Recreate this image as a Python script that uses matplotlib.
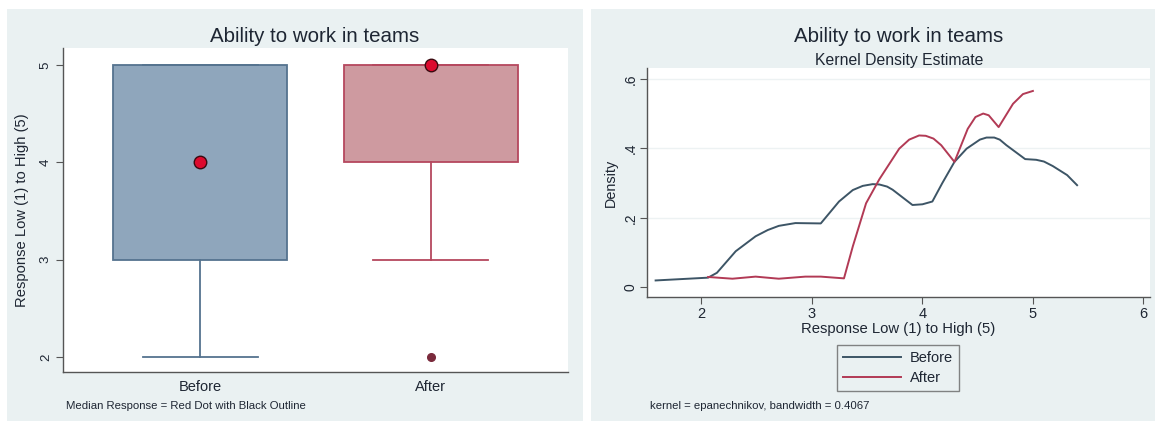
import matplotlib
matplotlib.use("Agg")
import matplotlib.pyplot as plt
from matplotlib.patches import Rectangle
from matplotlib.lines import Line2D

plt.rcParams['font.family'] = ['Liberation Sans', 'DejaVu Sans']

# ---- data ----
groups = ["Before", "After"]
q1 = [3, 4]
medians = [4, 5]
q3 = [5, 5]
whisker_low = [2, 3]
whisker_high = [5, 5]
outliers = [[], [2]]

before_x = [1.585, 2.00, 2.06, 2.14, 2.31, 2.49, 2.60, 2.70, 2.85, 3.08, 3.245, 3.37,
            3.46, 3.55, 3.61, 3.68, 3.73, 3.91, 4.00, 4.09, 4.18, 4.29, 4.40, 4.52,
            4.58, 4.65, 4.70, 4.76, 4.93, 5.03, 5.10, 5.18, 5.31, 5.40]
before_y = [0.020, 0.027, 0.028, 0.042, 0.104, 0.147, 0.165, 0.177, 0.185, 0.184, 0.247, 0.280,
            0.292, 0.297, 0.296, 0.290, 0.281, 0.237, 0.239, 0.247, 0.300, 0.361, 0.399, 0.425,
            0.431, 0.431, 0.425, 0.409, 0.369, 0.367, 0.362, 0.349, 0.323, 0.294]

after_x = [2.06, 2.28, 2.49, 2.70, 2.94, 3.08, 3.29, 3.37, 3.49, 3.61, 3.79, 3.88, 3.97,
           4.03, 4.10, 4.17, 4.29, 4.41, 4.48, 4.55, 4.60, 4.69, 4.82, 4.91, 5.00]
after_y = [0.030, 0.025, 0.031, 0.025, 0.031, 0.031, 0.026, 0.118, 0.242, 0.311, 0.399, 0.425, 0.437,
           0.436, 0.428, 0.409, 0.361, 0.456, 0.490, 0.500, 0.495, 0.461, 0.528, 0.556, 0.565]

# ---- styling ----
panel_bg = '#EAF1F2'
text_col = '#1E2633'
axis_col = '#555555'
box_fill = ['#8FA6BC', '#CE9AA0']
box_edge = ['#55738F', '#B5485E']
line_before = '#3D5566'
line_after = '#B23A55'

fig = plt.figure(figsize=(11.58, 4.23), dpi=100)
W, H = 1158, 423


def px_rect(x0, y0, x1, y1):
    """Convert a pixel box (top-left origin) to figure fractions."""
    return [x0 / W, 1 - y1 / H, (x1 - x0) / W, (y1 - y0) / H]


# panel backgrounds
for (x0, x1) in [(7, 583), (591, 1155)]:
    r = px_rect(x0, 9, x1, 421)
    fig.add_artist(Rectangle((r[0], r[1]), r[2], r[3], transform=fig.transFigure,
                             facecolor=panel_bg, edgecolor='none', zorder=-10))

# ---------------- left: box plot ----------------
ax1 = fig.add_axes(px_rect(63, 48, 568, 372))
ax1.set_facecolor('white')
positions = [1, 2]
for i, pos in enumerate(positions):
    stats = [dict(q1=q1[i], med=medians[i], q3=q3[i], whislo=whisker_low[i],
                  whishi=whisker_high[i], fliers=outliers[i], label=groups[i])]
    ax1.bxp(stats, positions=[pos], widths=0.755, capwidths=[0.5], patch_artist=True,
            showfliers=True,
            boxprops=dict(facecolor=box_fill[i], edgecolor=box_edge[i], linewidth=1.3),
            whiskerprops=dict(color=box_edge[i], linewidth=1.3),
            capprops=dict(color=box_edge[i], linewidth=1.3),
            medianprops=dict(visible=False),
            flierprops=dict(marker='o', markersize=5.5, markerfacecolor='#7A2A3C',
                            markeredgecolor='#7A2A3C'))
ax1.plot(positions, medians, linestyle='none', marker='o', markersize=9,
         markerfacecolor='#DC0A2E', markeredgecolor='#3A0A10', markeredgewidth=1.0,
         zorder=5, clip_on=False)

ax1.set_xlim(0.405, 2.595)
ax1.set_ylim(1.846, 5.175)
ax1.set_xticks(positions)
ax1.set_xticklabels(groups, fontsize=10.5, color=text_col)
ax1.tick_params(axis='x', length=0, pad=6)
ax1.set_yticks([2, 3, 4, 5])
ax1.set_yticklabels(['2', '3', '4', '5'], rotation=90, va='center', fontsize=9.5, color=text_col)
ax1.tick_params(axis='y', length=5, color=axis_col, pad=3)
for s in ['top', 'right']:
    ax1.spines[s].set_visible(False)
for s in ['left', 'bottom']:
    ax1.spines[s].set_color(axis_col)
    ax1.spines[s].set_linewidth(1.0)
ax1.set_ylabel('Response Low (1) to High (5)', fontsize=10.6, color=text_col, labelpad=8)
fig.text(315 / W, 1 - 37 / H, 'Ability to work in teams', ha='center', va='center',
         fontsize=14.8, color=text_col)
fig.text(66 / W, 1 - 406 / H, 'Median Response = Red Dot with Black Outline',
         ha='left', va='center', fontsize=8.2, color=text_col)

# ---------------- right: kernel density ----------------
ax2 = fig.add_axes(px_rect(647, 68, 1150, 297))
ax2.set_facecolor('white')
ax2.plot(before_x, before_y, color=line_before, linewidth=1.4, label='Before', zorder=3,
         solid_joinstyle='round')
ax2.plot(after_x, after_y, color=line_after, linewidth=1.4, label='After', zorder=4,
         solid_joinstyle='round')
ax2.set_xlim(1.507, 6.06)
ax2.set_ylim(-0.0276, 0.631)
ax2.set_xticks([2, 3, 4, 5, 6])
ax2.set_xticklabels(['2', '3', '4', '5', '6'], fontsize=10.5, color=text_col)
ax2.set_yticks([0, 0.2, 0.4, 0.6])
ax2.set_yticklabels(['0', '.2', '.4', '.6'], rotation=90, va='center', fontsize=10, color=text_col)
ax2.tick_params(axis='both', length=5, color=axis_col, pad=2)
for yv in [0.2, 0.4, 0.6]:
    ax2.axhline(yv, color='#EDF2F3', linewidth=1.0, zorder=1)
for s in ['top', 'right']:
    ax2.spines[s].set_visible(False)
for s in ['left', 'bottom']:
    ax2.spines[s].set_color(axis_col)
    ax2.spines[s].set_linewidth(1.0)
ax2.set_ylabel('Density', fontsize=10.4, color=text_col, labelpad=4)
ax2.set_xlabel('Response Low (1) to High (5)', fontsize=10.7, color=text_col, labelpad=1)
fig.text(899 / W, 1 - 37 / H, 'Ability to work in teams', ha='center', va='center',
         fontsize=14.8, color=text_col)
fig.text(899 / W, 1 - 60 / H, 'Kernel Density Estimate', ha='center', va='center',
         fontsize=11.3, color=text_col)

handles = [Line2D([], [], color=line_before, linewidth=1.4),
           Line2D([], [], color=line_after, linewidth=1.4)]
leg = fig.legend(handles, ['Before', 'After'], loc='center',
                 bbox_to_anchor=(898 / W, 1 - 368 / H), fontsize=10.5,
                 frameon=True, fancybox=False, handlelength=4.0, handletextpad=0.6,
                 labelspacing=0.45, borderpad=0.4, labelcolor=text_col)
leg.get_frame().set_facecolor(panel_bg)
leg.get_frame().set_edgecolor('#666666')
leg.get_frame().set_linewidth(1.0)

fig.text(650 / W, 1 - 406 / H, 'kernel = epanechnikov, bandwidth = 0.4067',
         ha='left', va='center', fontsize=8.2, color=text_col)

fig.savefig('out.png', dpi=100, facecolor='white')
